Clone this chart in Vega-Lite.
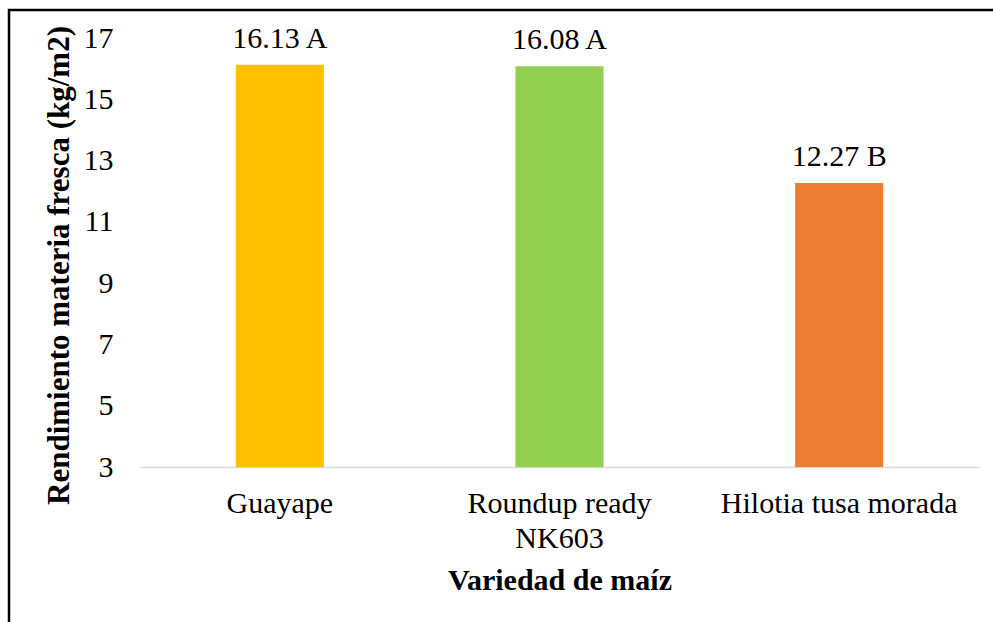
{
  "$schema": "https://vega.github.io/schema/vega-lite/v6.json",
  "autosize": {"type": "none"},
  "padding": {"left": 9, "top": 10, "right": 0, "bottom": 0},
  "width": 990,
  "height": 620,
  "background": "white",
  "config": {
    "font": "Liberation Serif",
    "view": {"stroke": "black", "strokeWidth": 2.5},
    "axis": {"labelFont": "Liberation Serif", "titleFont": "Liberation Serif", "labelColor": "#000000", "titleColor": "#000000"}
  },
  "data": {
    "values": [
      {"variedad": "Guayape", "rendimiento": 16.13, "etiqueta": "16.13 A"},
      {"variedad": "Roundup ready NK603", "rendimiento": 16.08, "etiqueta": "16.08 A"},
      {"variedad": "Hilotia tusa morada", "rendimiento": 12.27, "etiqueta": "12.27 B"}
    ]
  },
  "encoding": {
    "x": {
      "field": "variedad",
      "type": "nominal",
      "sort": null,
      "scale": {"range": [131, 970], "paddingInner": 0.685, "paddingOuter": 0.3425},
      "axis": {
        "title": "Variedad de maíz",
        "titleFontSize": 30,
        "titleFontWeight": "bold",
        "titlePadding": 12,
        "labelFontSize": 30,
        "labelAngle": 0,
        "labelPadding": 21,
        "labelLineHeight": 35,
        "labelLimit": 0,
        "labelExpr": "datum.label == 'Roundup ready NK603' ? ['Roundup ready', 'NK603'] : datum.label",
        "ticks": false,
        "tickSize": 0,
        "domainColor": "#d9d9d9",
        "domainWidth": 1.5,
        "offset": -163
      }
    },
    "y": {
      "field": "rendimiento",
      "type": "quantitative",
      "scale": {"domain": [3, 17], "range": [457, 28], "nice": false, "zero": false},
      "axis": {
        "title": "Rendimiento materia fresca (kg/m2)",
        "titleFontSize": 31,
        "titleFontWeight": "bold",
        "titlePadding": 8,
        "titleY": 255,
        "values": [3, 5, 7, 9, 11, 13, 15, 17],
        "labelFontSize": 30,
        "labelPadding": 5,
        "ticks": false,
        "tickSize": 0,
        "domain": false,
        "grid": false,
        "offset": -109
      }
    }
  },
  "layer": [
    {
      "mark": {"type": "bar"},
      "encoding": {
        "y2": {"datum": 3},
        "color": {
          "field": "variedad",
          "type": "nominal",
          "scale": {"domain": ["Guayape", "Roundup ready NK603", "Hilotia tusa morada"], "range": ["#FFC000", "#92D050", "#ED7D31"]},
          "legend": null
        }
      }
    },
    {
      "mark": {"type": "text", "baseline": "alphabetic", "dy": -17, "fontSize": 30, "color": "#000000"},
      "encoding": {"text": {"field": "etiqueta"}}
    }
  ]
}
